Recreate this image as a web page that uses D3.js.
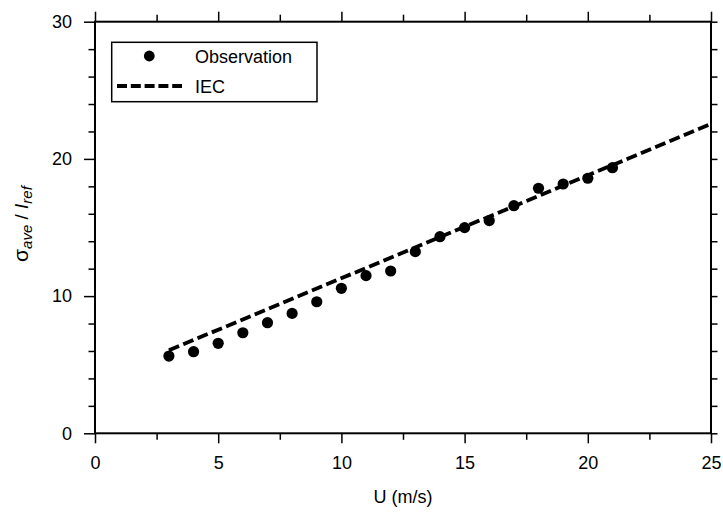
<!DOCTYPE html>
<html>
<head>
<meta charset="utf-8">
<script src="https://cdn.jsdelivr.net/npm/d3@7"></script>
<style>
    body { margin: 0; background: #fff; }
    svg { display: block; font-family: "Liberation Sans", Arial, sans-serif; }
</style>
</head>
<body>
<svg id="chart" width="723" height="512"></svg>
<script>
const windSpeed = [3, 4, 5, 6, 7, 8, 9, 10, 11, 12, 13, 14, 15, 16, 17, 18, 19, 20, 21];
const sigmaRatio = [5.63, 5.95, 6.56, 7.33, 8.06, 8.74, 9.59, 10.57, 11.49, 11.83, 13.24, 14.33, 14.99, 15.5, 16.59, 17.86, 18.17, 18.59, 19.36];

// IEC line end points
const iecSpeed = [3, 25];
const iecRatio = [6.05, 22.55];

const xMajorTicks = [0, 5, 10, 15, 20, 25];
const xMinorTicks = [2.5, 7.5, 12.5, 17.5, 22.5];
const yMajorTicks = [0, 10, 20, 30];
const yMinorTicks = [2, 4, 6, 8, 12, 14, 16, 18, 22, 24, 26, 28];

const legendItems = ["Observation", "IEC"];

const margin = {left: 95, right: 12, top: 21.7, bottom: 78.7};

const svg = d3.select('#chart');
const width = +svg.attr('width');
const height = +svg.attr('height');
const innerWidth = width - margin.left - margin.right;
const innerHeight = height - margin.top - margin.bottom;

const g = svg.append('g')
    .attr('transform', `translate(${margin.left}, ${margin.top})`);

const xScale = d3.scaleLinear().domain([0, 25]).range([0, innerWidth]);
const yScale = d3.scaleLinear().domain([0, 30]).range([innerHeight, 0]);

function styleAxis(sel) {
    sel.select('.domain').remove();
    sel.selectAll('.tick line').attr('stroke', '#000').attr('stroke-width', 1.5);
    // minor/mirror axes have no labels, drop the empty text nodes
    sel.selectAll('.tick text').filter(function () { return this.textContent === ''; }).remove();
    sel.selectAll('.tick text')
        .attr('fill', '#000')
        .style('font-size', '18px')
        .style('font-family', '"Liberation Sans", Arial, sans-serif');
}

// bottom
g.append('g')
    .attr('transform', `translate(0, ${innerHeight})`)
    .call(d3.axisBottom(xScale).tickValues(xMajorTicks).tickSize(10).tickPadding(13).tickFormat(d3.format('d')))
    .call(styleAxis);
g.append('g')
    .attr('transform', `translate(0, ${innerHeight})`)
    .call(d3.axisBottom(xScale).tickValues(xMinorTicks).tickSize(6.5).tickFormat(''))
    .call(styleAxis);

// top
g.append('g')
    .call(d3.axisTop(xScale).tickValues(xMajorTicks).tickSize(10).tickFormat(''))
    .call(styleAxis);
g.append('g')
    .call(d3.axisTop(xScale).tickValues(xMinorTicks).tickSize(7).tickFormat(''))
    .call(styleAxis);

// left
g.append('g')
    .call(d3.axisLeft(yScale).tickValues(yMajorTicks).tickSize(11).tickPadding(12).tickFormat(d3.format('d')))
    .call(styleAxis);
g.append('g')
    .call(d3.axisLeft(yScale).tickValues(yMinorTicks).tickSize(6.5).tickFormat(''))
    .call(styleAxis);

// right
g.append('g')
    .attr('transform', `translate(${innerWidth}, 0)`)
    .call(d3.axisRight(yScale).tickValues(yMajorTicks.concat(yMinorTicks)).tickSize(6.5).tickFormat(''))
    .call(styleAxis);

// frame
g.append('rect')
    .attr('x', 0)
    .attr('y', 0)
    .attr('width', innerWidth)
    .attr('height', innerHeight)
    .attr('fill', 'none')
    .attr('stroke', '#000')
    .attr('stroke-width', 2);

// IEC line
g.append('path')
    .datum(d3.zip(iecSpeed, iecRatio))
    .attr('fill', 'none')
    .attr('stroke', '#000')
    .attr('stroke-width', 3.8)
    .attr('stroke-dasharray', '11,4.5')
    .attr('d', d3.line()
        .x(d => xScale(d[0]))
        .y(d => yScale(d[1]))
    );

// observations
g.selectAll('.obs')
    .data(d3.zip(windSpeed, sigmaRatio))
    .join('circle')
        .classed('obs', true)
        .attr('cx', d => xScale(d[0]))
        .attr('cy', d => yScale(d[1]))
        .attr('r', 5.6)
        .attr('fill', '#000');

// legend
const legend = svg.append('g');
legend.append('rect')
    .attr('x', 111.7)
    .attr('y', 42.3)
    .attr('width', 205.3)
    .attr('height', 59.4)
    .attr('fill', '#fff')
    .attr('stroke', '#000')
    .attr('stroke-width', 1.5);
legend.append('circle')
    .attr('cx', 149.3)
    .attr('cy', 56)
    .attr('r', 5.4)
    .attr('fill', '#000');
legend.append('line')
    .attr('x1', 117)
    .attr('x2', 182)
    .attr('y1', 86)
    .attr('y2', 86)
    .attr('stroke', '#000')
    .attr('stroke-width', 3.8)
    .attr('stroke-dasharray', '10,3.8');
legend.selectAll('.legendText')
    .data(legendItems)
    .join('text')
        .classed('legendText', true)
        .attr('x', 195)
        .attr('y', (d, i) => 62.5 + i * 30)
        .style('font-size', '18px')
        .text(d => d);

// axis titles
svg.append('text')
    .attr('x', margin.left + innerWidth / 2)
    .attr('y', 503)
    .attr('text-anchor', 'middle')
    .style('font-size', '18px')
    .text('U (m/s)');

const yTitle = svg.append('text')
    .attr('transform', `translate(28, 224) rotate(-90)`)
    .attr('text-anchor', 'middle')
    .style('font-size', '19px');
yTitle.append('tspan').style('font-size', '21px').text('σ');
yTitle.append('tspan').attr('dy', 4).style('font-size', '15px').style('font-style', 'italic').text('ave');
yTitle.append('tspan').attr('dy', -4).text(' / ');
yTitle.append('tspan').style('font-style', 'italic').text('I');
yTitle.append('tspan').attr('dy', 4).style('font-size', '15px').style('font-style', 'italic').text('ref');
</script>
</body>
</html>
